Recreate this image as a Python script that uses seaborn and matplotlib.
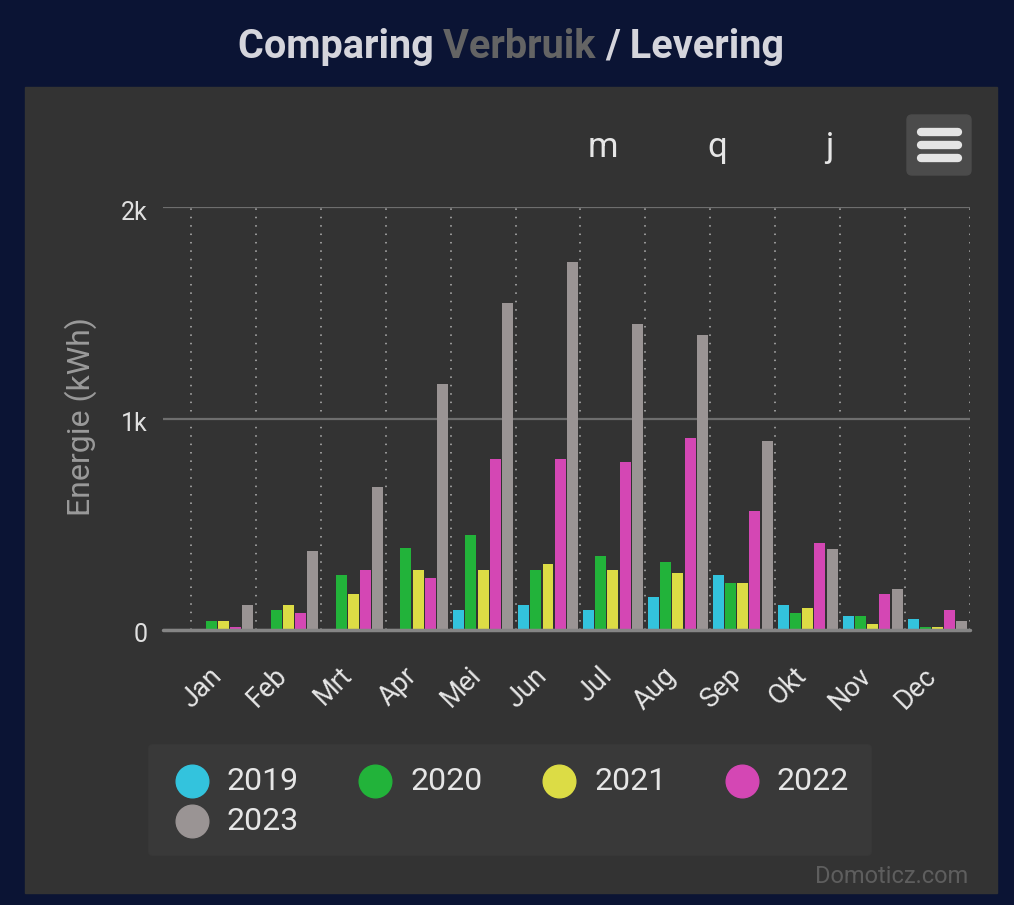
import numpy as np
import pandas as pd
import matplotlib
matplotlib.use("Agg")
import matplotlib.pyplot as plt
import matplotlib.transforms as mtransforms
from matplotlib.patches import Rectangle, FancyBboxPatch
from matplotlib.lines import Line2D
import seaborn as sns

# data (kWh)
months = ["Jan", "Feb", "Mrt", "Apr", "Mei", "Jun", "Jul", "Aug", "Sep", "Okt", "Nov", "Dec"]
years = ["2019", "2020", "2021", "2022", "2023"]
v2019 = [0, 0, 0, 0, 93, 118, 93, 156, 259, 118, 66, 53]
v2020 = [43, 93, 259, 386, 449, 284, 348, 322, 221, 79, 66, 16]
v2021 = [43, 118, 169, 284, 284, 311, 284, 271, 221, 105, 28, 16]
v2022 = [16, 80, 284, 244, 807, 807, 796, 910, 564, 410, 169, 93]
v2023 = [118, 373, 676, 1163, 1548, 1739, 1445, 1393, 895, 384, 194, 41]
colors = ["#33c3dd", "#22b33a", "#dcdc45", "#d447b4", "#9a9494"]

yticks = [0, 1000, 2000]
ytick_labels = ["0", "1k", "2k"]

df = pd.DataFrame({
    "month": months * 5,
    "year": np.repeat(years, 12),
    "value": v2019 + v2020 + v2021 + v2022 + v2023,
})

sns.set_theme(style="dark")
plt.rcParams["font.family"] = ["Roboto", "DejaVu Sans"]

fig = plt.figure(figsize=(10.14, 9.05), dpi=100, facecolor="#0b1434")

# grey panel and legend box
fig.add_artist(Rectangle((0.25, 0.12), 9.72, 8.06, transform=fig.dpi_scale_trans,
                         color="#333333", zorder=0))
fig.add_artist(FancyBboxPatch((1.49, 0.50), 7.22, 1.10, boxstyle="round,pad=0,rounding_size=0.03",
                              transform=fig.dpi_scale_trans, color="#393939", zorder=0.5))

ax = fig.add_axes([163 / 1014, 1 - 630 / 905, 807 / 1014, 423 / 905])
ax.set_facecolor("none")

sns.barplot(data=df, x="month", y="value", hue="year", palette=colors, hue_order=years,
            order=months, width=0.94, gap=0.1, saturation=1, linewidth=0,
            legend=False, ax=ax)

ax.set_xlim(-0.93, 11.5)
ax.set_ylim(0, 2000)
for s in ax.spines.values():
    s.set_visible(False)

ax.set_yticks(yticks)
ax.set_yticklabels(ytick_labels)
ax.set_xticks(np.arange(-0.5, 12), minor=True)
ax.grid(False)
ax.grid(which="major", axis="y", color="#6e6e6e", lw=1.6)
ax.grid(which="minor", axis="x", color="#b5b5b5", lw=1.1, ls=(0, (1, 4.5)))
ax.axhline(0, color="#858585", lw=2.5, zorder=5, clip_on=False)

ax.tick_params(axis="both", which="both", length=0)
ax.tick_params(axis="y", labelsize=18, labelcolor="#e0e0e0", pad=11)
ax.tick_params(axis="x", labelsize=19.5, labelcolor="#e6e6e6", pad=23)
for lab in ax.get_xticklabels():
    lab.set_rotation(45)
    lab.set_ha("right")
    lab.set_va("top")
    lab.set_transform(lab.get_transform() + mtransforms.ScaledTranslation(4 / 100, 0, fig.dpi_scale_trans))
for lab in ax.get_yticklabels():
    lab.set_transform(lab.get_transform() + mtransforms.ScaledTranslation(0, -3 / 100, fig.dpi_scale_trans))

ax.set_xlabel("")
ax.set_ylabel("Energie (kWh)", fontsize=23, color="#9a9a9a", va="center")
ax.yaxis.set_label_coords(-0.1016, 0.505)

# title with grey middle word
r = fig.canvas.get_renderer()
parts = [("Comparing ", "#d5d5dc"), ("Verbruik ", "#646464"), ("/ Levering", "#d5d5dc")]
texts = [fig.text(0, 1 - 58 / 905, p, color=c, fontsize=28.5, fontweight="bold",
                  va="baseline", ha="left") for p, c in parts]
widths = [t.get_window_extent(r).width for t in texts]
x = 511 - sum(widths) / 2
for t, w in zip(texts, widths):
    t.set_x(x / 1014)
    x += w

# zoom buttons text
for lab, xp in zip(["m", "q", "j"], [603, 717, 829]):
    fig.text(xp / 1014, 1 - 157 / 905, lab, color="#e6e6e6", fontsize=25,
             ha="center", va="baseline")

# menu button
fig.add_artist(FancyBboxPatch((9.07, 7.30), 0.64, 0.60, boxstyle="round,pad=0,rounding_size=0.05",
                              transform=fig.dpi_scale_trans, color="#4b4b4b"))
for yy in [7.73, 7.60, 7.47]:
    fig.add_artist(Line2D([9.21, 9.58], [yy, yy], transform=fig.dpi_scale_trans,
                          color="#e4e4e4", lw=6, solid_capstyle="round"))

# legend drawn by hand to match the layout
leg_x = [192, 375, 559, 742]
leg_y = [781, 821]
for i, (yr, c) in enumerate(zip(years, colors)):
    cx = leg_x[i % 4]
    cy = leg_y[i // 4]
    fig.add_artist(Line2D([cx / 1014], [1 - cy / 905], transform=fig.transFigure,
                          marker="o", markersize=23.5, color=c, lw=0))
    fig.text((cx + 35) / 1014, 1 - (cy + 1) / 905, yr, color="#e6e6e6", fontsize=23,
             ha="left", va="center")

fig.text(968 / 1014, 1 - 883 / 905, "Domoticz.com", color="#5e5e5e", fontsize=17,
         ha="right", va="baseline")

fig.savefig("out.png", dpi=100, facecolor=fig.get_facecolor())
